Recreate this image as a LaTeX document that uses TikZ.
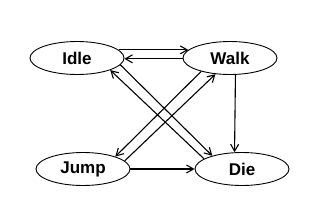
\documentclass[tikz,border=0pt]{standalone}
\usepackage{fontspec}
\setmainfont{Liberation Sans}
\usetikzlibrary{arrows.meta,shapes.geometric}

\begin{document}
\begin{tikzpicture}[x=1bp, y=-1bp,
      >={Straight Barb[length=7bp,width=8bp]},
      font=\fontsize{17bp}{19bp}\selectfont\bfseries,
      st/.style={draw, ellipse, line width=0.9bp, inner sep=0pt, minimum width=94bp, minimum height=33bp},
      tr/.style={->, line width=1.1bp}]
      \useasboundingbox (0,0) rectangle (320,214);
      \node[st] (idle) at (77,58) {Idle};
      \node[st] (walk) at (230,58) {Walk};
      \node[st] (jump) at (83,169) {Jump};
      \node[st] (die) at (242,169) {Die};
      \draw[tr] (idle.11) -- (walk.169);
      \draw[tr] (walk.181) -- (idle.359);
      \draw[tr] (idle.-9) -- (die.156);
      \draw[tr] (die.165) -- (idle.-20);
      \draw[tr] (walk.205) -- (jump.21);
      \draw[tr] (jump.11) -- (walk.228);
      \draw[tr] (walk.-72) -- (die.114);
      \draw[tr] (jump.east) -- (die.west);
    \end{tikzpicture}
\end{document}
